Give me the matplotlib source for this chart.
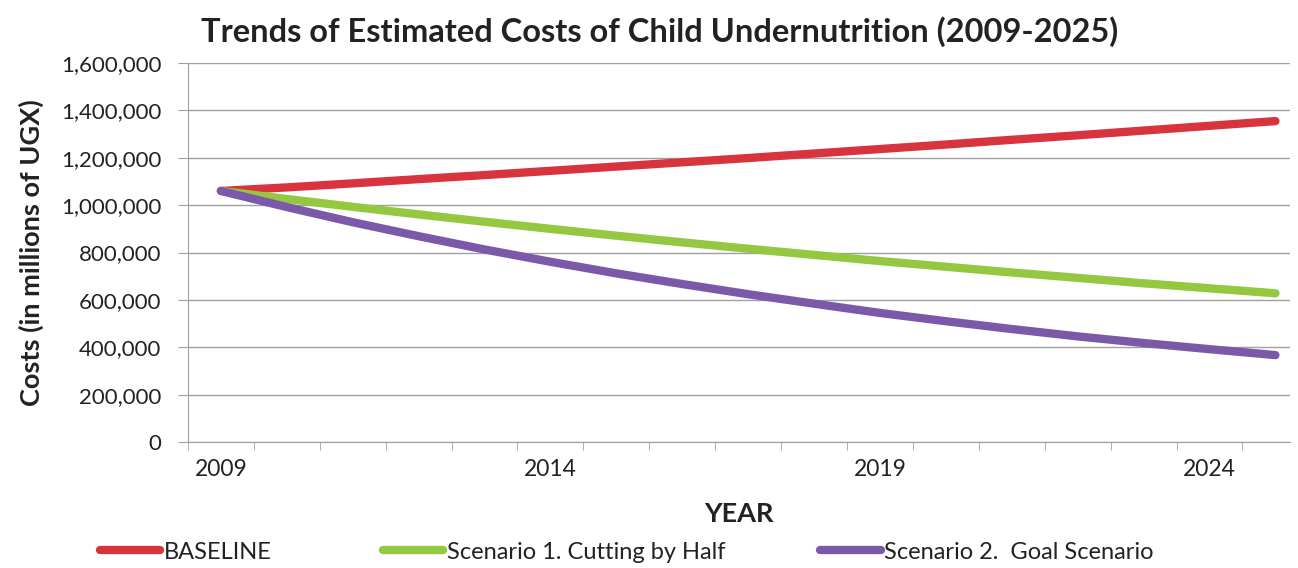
import matplotlib
matplotlib.use("Agg")
import matplotlib.pyplot as plt
from matplotlib.ticker import FuncFormatter, FixedLocator
from matplotlib.lines import Line2D

# --- data ---
YEARS = list(range(2009, 2026))
BASELINE = [1060000, 1075000, 1092000, 1110000, 1127000, 1145000, 1163000, 1181000,
            1199000, 1218000, 1237000, 1256000, 1276000, 1295000, 1315000, 1335000, 1355000]
SCENARIO_1 = [1060000, 1026000, 993000, 961000, 930000, 900000, 871000, 843000,
              816000, 790000, 764000, 740000, 716000, 693000, 670000, 649000, 628000]
SCENARIO_2 = [1060000, 992000, 928000, 869000, 813000, 761000, 712000, 667000,
              624000, 584000, 545000, 510000, 477000, 446000, 418000, 392000, 367000]
SERIES_NAMES = ["BASELINE", "Scenario 1. Cutting by Half", "Scenario 2.  Goal Scenario"]
LABELED_YEARS = [2009, 2014, 2019, 2024]

# --- style ---
COLORS = ["#d8343e", "#93c840", "#7c59a8"]
LINE_W = 6.0
GRID_COLOR = "#a0a0a0"
TEXT_COLOR = "#222222"
FONT = "Lato"

plt.rcParams["font.family"] = [FONT, "DejaVu Sans"]

fig = plt.figure(figsize=(12.98, 5.68), dpi=100)
ax = fig.add_axes([0.1448, 0.2218, 0.849, 0.6672])

x = list(range(len(YEARS)))
for vals, col in zip([BASELINE, SCENARIO_1, SCENARIO_2], COLORS):
    ax.plot(x, vals, color=col, lw=LINE_W, solid_capstyle="round",
            solid_joinstyle="round", zorder=3)

ax.set_ylim(0, 1600000)
ax.set_yticks(range(0, 1600001, 200000))
ax.yaxis.set_major_formatter(FuncFormatter(lambda v, p: f"{int(v):,}"))
ax.grid(axis="y", color=GRID_COLOR, lw=1.0)
ax.set_axisbelow(True)

ax.set_xlim(-0.5, 16.22)
major_pos = [YEARS.index(y) for y in LABELED_YEARS]
ax.xaxis.set_major_locator(FixedLocator(major_pos))
ax.set_xticklabels([str(y) for y in LABELED_YEARS])
ax.xaxis.set_minor_locator(FixedLocator([i - 0.5 for i in range(len(YEARS) + 1)]))
ax.tick_params(axis="x", which="major", length=0, pad=12, labelsize=16.5, colors=TEXT_COLOR)
ax.tick_params(axis="x", which="minor", length=6, color=GRID_COLOR, direction="out")
ax.tick_params(axis="y", length=7, color=GRID_COLOR, labelsize=16, colors=TEXT_COLOR, pad=12)
ax.tick_params(axis="y", color=GRID_COLOR)

for s in ["top", "right"]:
    ax.spines[s].set_visible(False)
for s in ["left", "bottom"]:
    ax.spines[s].set_color(GRID_COLOR)

ax.set_ylabel("Costs (in millions of UGX)", fontsize=19.5, fontweight="bold",
              color=TEXT_COLOR, labelpad=12)
ax.set_xlabel("YEAR", fontsize=19.5, fontweight="bold", color=TEXT_COLOR, labelpad=16)
fig.text(0.508, 0.944, "Trends of Estimated Costs of Child Undernutrition (2009-2025)",
         ha="center", va="center", fontsize=23.5, fontweight="bold", color=TEXT_COLOR)

# legend entries placed along the bottom like the original
legend_x = [0.077, 0.295, 0.632]
for name, col, lx in zip(SERIES_NAMES, COLORS, legend_x):
    h = Line2D([], [], color=col, lw=LINE_W, solid_capstyle="round")
    fig.legend(handles=[h], labels=[name], loc="center left", bbox_to_anchor=(lx, 0.028),
               frameon=False, fontsize=17, handlelength=2.55, handletextpad=0.15,
               borderpad=0, borderaxespad=0, labelcolor=TEXT_COLOR)

fig.savefig("out.png", dpi=100, facecolor="white")
